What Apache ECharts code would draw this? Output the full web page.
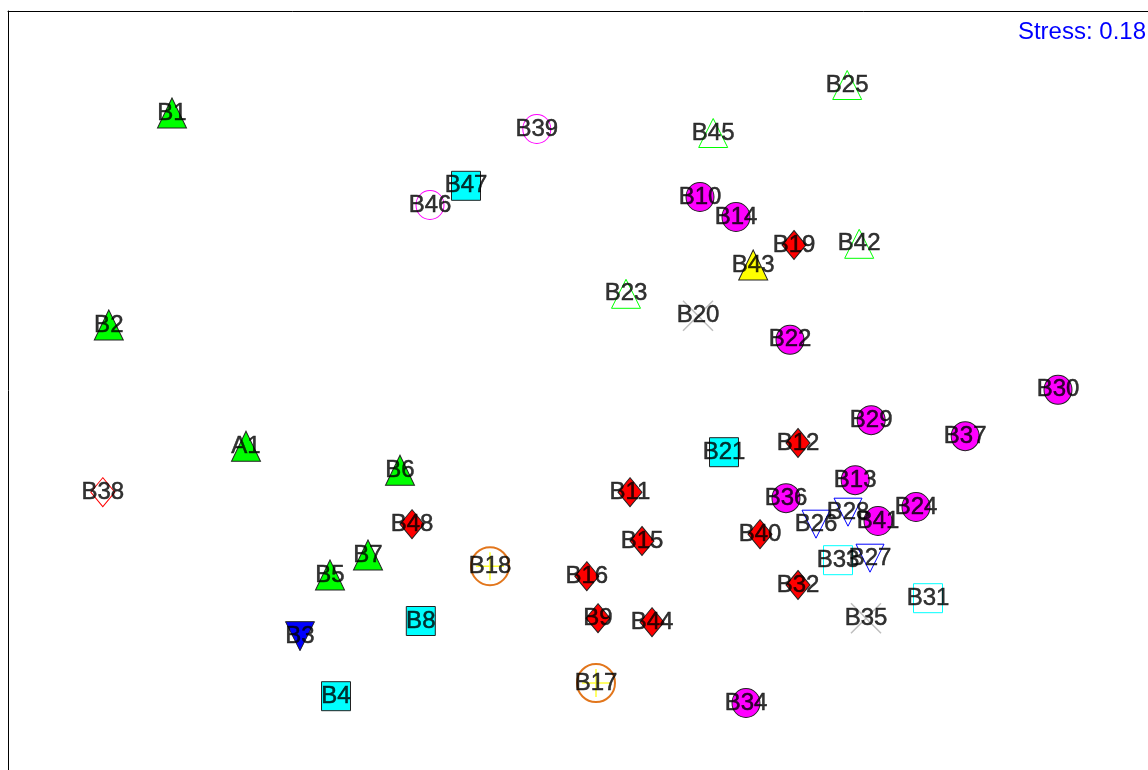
<!DOCTYPE html>
<html>
<head>
<meta charset="utf-8">
<script src="https://cdn.jsdelivr.net/npm/echarts@6/dist/echarts.min.js"></script>
<style>
  html, body { margin: 0; padding: 0; background: #fff; }
  #chart { width: 1148px; height: 770px; }
</style>
</head>
<body>
<div id="chart"></div>
<script>
// NMDS ordination of samples: axis scores, sample names and their groups
const sampleNames = ['A1','B1','B2','B3','B4','B5','B6','B7','B8','B9','B10','B11','B12','B13','B14','B15','B16','B17','B18','B19','B20','B21','B22','B23','B24','B25','B26','B27','B28','B29','B30','B31','B32','B33','B34','B35','B36','B37','B38','B39','B40','B41','B42','B43','B44','B45','B46','B47','B48'];
const nmds1 = [-0.905,-1.09,-1.248,-0.77,-0.68,-0.695,-0.52,-0.6,-0.468,-0.025,0.23,0.055,0.475,0.618,0.32,0.085,-0.053,-0.03,-0.295,0.465,0.225,0.29,0.455,0.045,0.77,0.598,0.52,0.655,0.6,0.658,1.125,0.8,0.475,0.575,0.345,0.645,0.445,0.893,-1.263,-0.178,0.38,0.675,0.628,0.363,0.11,0.263,-0.445,-0.355,-0.49];
const nmds2 = [-0.088,0.745,0.215,-0.563,-0.713,-0.41,-0.148,-0.36,-0.525,-0.518,0.535,-0.203,-0.08,-0.173,0.485,-0.325,-0.413,-0.68,-0.388,0.415,0.238,-0.103,0.178,0.293,-0.24,0.815,-0.283,-0.368,-0.253,-0.023,0.053,-0.468,-0.435,-0.373,-0.73,-0.518,-0.218,-0.063,-0.203,0.705,-0.308,-0.275,0.418,0.365,-0.528,0.695,0.515,0.563,-0.283];
const sampleGroup = ['gTri','gTri','gTri','bDown','cSq','gTri','gTri','gTri','cSq','rDia','mCirc','rDia','rDia','mCirc','mCirc','rDia','rDia','oCirc','oCirc','rDia','xGrey','cSq','mCirc','gTriOpen','mCirc','gTriOpen','bDownOpen','bDownOpen','bDownOpen','mCirc','mCirc','cSqOpen','rDia','cSqOpen','mCirc','xGrey','mCirc','mCirc','rDiaOpen','mCircOpen','rDia','mCirc','gTriOpen','yTri','rDia','gTriOpen','mCircOpen','cSq','rDia'];
const stressValue = 0.18;

// Visible window of the ordination plane (the frame continues past the right and bottom edges)
const xRange = [-1.5, 1.35];
const yRange = [-0.8975, 1];

// Marker appearance for each group
const OUTLINE = '#222';
const CROSS = 'path://M0,0L10,10M10,0L0,10';
const PLUS = 'path://M5,0L5,10M0,5L10,5';
const groupStyles = {
  gTri:      { symbol: 'triangle', size: [29, 30], fill: '#00ff00', stroke: OUTLINE, width: 1 },
  yTri:      { symbol: 'triangle', size: [29, 30], fill: '#ffff00', stroke: OUTLINE, width: 1 },
  gTriOpen:  { symbol: 'triangle', size: [29, 29], fill: 'none', stroke: '#00ff00', width: 1 },
  bDown:     { symbol: 'triangle', size: [29, 29], fill: '#0000ff', stroke: OUTLINE, width: 1, rotate: 180 },
  bDownOpen: { symbol: 'triangle', size: [28, 28], fill: 'none', stroke: '#0000ff', width: 1, rotate: 180 },
  cSq:       { symbol: 'rect', size: [29, 29], fill: '#00ffff', stroke: OUTLINE, width: 1 },
  cSqOpen:   { symbol: 'rect', size: [29, 29], fill: 'none', stroke: '#00ffff', width: 1 },
  rDia:      { symbol: 'diamond', size: [24, 29], fill: '#ff0000', stroke: OUTLINE, width: 1 },
  rDiaOpen:  { symbol: 'diamond', size: [24, 29], fill: 'none', stroke: '#ff0000', width: 1 },
  mCirc:     { symbol: 'circle', size: [28, 29], fill: '#ff00ff', stroke: OUTLINE, width: 1 },
  mCircOpen: { symbol: 'circle', size: [28, 29], fill: 'none', stroke: '#ff00ff', width: 1 },
  oCirc:     { symbol: 'circle', size: [38, 38], fill: 'none', stroke: '#e2761c', width: 2, overlay: { symbol: PLUS, size: [28, 28], stroke: '#ffff00', width: 1.5 } },
  xGrey:     { symbol: CROSS, size: [30, 30], fill: 'none', stroke: '#bebebe', width: 1.5 }
};

const points = sampleNames.map((name, i) => ({ name, value: [nmds1[i], nmds2[i]], group: sampleGroup[i] }));

const series = [];
Object.keys(groupStyles).forEach(key => {
  const st = groupStyles[key];
  const data = points.filter(p => p.group === key).map(p => ({ name: p.name, value: p.value }));
  series.push({
    type: 'scatter',
    name: key,
    data,
    symbol: st.symbol,
    symbolSize: st.size,
    symbolRotate: st.rotate || 0,
    itemStyle: { color: st.fill, borderColor: st.stroke, borderWidth: st.width, opacity: 1 },
    emphasis: { disabled: true },
    silent: true,
    clip: false,
    z: 2
  });
  if (st.overlay) {
    series.push({
      type: 'scatter',
      name: key + '-inner',
      data,
      symbol: st.overlay.symbol,
      symbolSize: st.overlay.size,
      itemStyle: { color: 'none', borderColor: st.overlay.stroke, borderWidth: st.overlay.width },
      emphasis: { disabled: true },
      silent: true,
      clip: false,
      z: 3
    });
  }
});

// Sample names written on top of every marker
series.push({
  type: 'scatter',
  name: 'names',
  data: points.map(p => ({ name: p.name, value: p.value })),
  symbolSize: 0,
  itemStyle: { color: 'none' },
  label: {
    show: true,
    position: 'inside',
    formatter: '{b}',
    color: '#000',
    textBorderColor: '#000',
    textBorderWidth: 0.5,
    fontSize: 24,
    fontFamily: '"Liberation Sans", Arial, sans-serif'
  },
  emphasis: { disabled: true },
  silent: true,
  clip: false,
  z: 10
});

const hiddenAxisParts = { axisTick: { show: false }, axisLabel: { show: false }, splitLine: { show: false } };
const chart = echarts.init(document.getElementById('chart'), null, { renderer: 'canvas' });
chart.setOption({
  animation: false,
  backgroundColor: '#fff',
  grid: { left: 8, top: 11, right: 0, bottom: 0, show: false },
  xAxis: Object.assign({ type: 'value', position: 'top', min: xRange[0], max: xRange[1],
    axisLine: { show: true, onZero: false, lineStyle: { color: '#000', width: 1 } } }, hiddenAxisParts),
  yAxis: Object.assign({ type: 'value', position: 'left', min: yRange[0], max: yRange[1],
    axisLine: { show: true, onZero: false, lineStyle: { color: '#000', width: 1 } } }, hiddenAxisParts),
  graphic: [{
    type: 'text',
    right: 2,
    top: 20,
    style: { text: 'Stress: ' + stressValue.toFixed(2), fill: '#0000ff', fontSize: 24, fontFamily: '"Liberation Sans", Arial, sans-serif' }
  }],
  series
});
</script>
</body>
</html>
